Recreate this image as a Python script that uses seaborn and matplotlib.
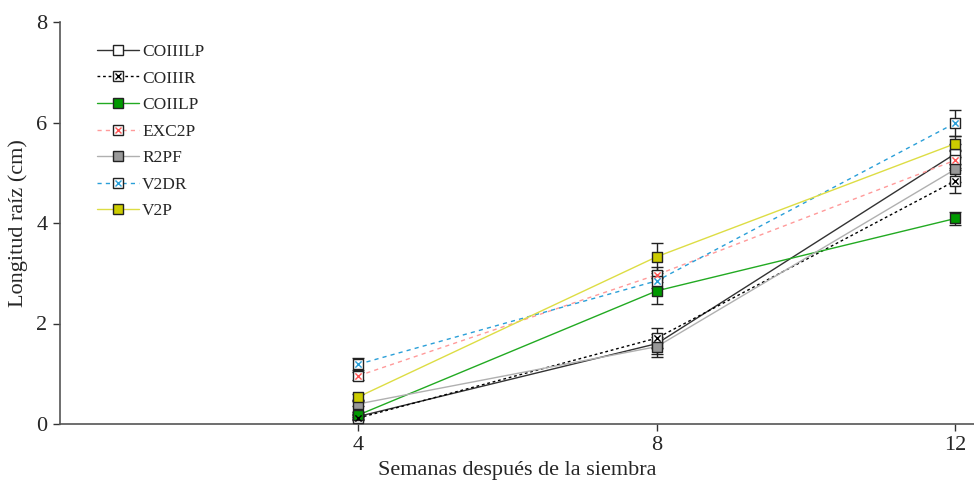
import matplotlib
matplotlib.use("Agg")
import matplotlib.pyplot as plt
from matplotlib.lines import Line2D
import seaborn as sns
import pandas as pd

semanas = [4, 8, 12]
series = ["COIIILP", "COIIIR", "COIILP", "EXC2P", "R2PF", "V2DR", "V2P"]

coiiilp = [0.15, 1.60, 5.38]
coiiir = [0.12, 1.71, 4.84]
coiilp = [0.18, 2.65, 4.09]
exc2p = [0.96, 2.97, 5.25]
r2pf = [0.40, 1.54, 5.07]
v2dr = [1.19, 2.85, 5.99]
v2p = [0.54, 3.33, 5.58]

err_coiiilp = [0.05, 0.20, 0.20]
err_coiiir = [0.05, 0.20, 0.25]
err_coiilp = [0.05, 0.26, 0.12]
err_exc2p = [0.08, 0.15, 0.20]
err_r2pf = [0.05, 0.20, 0.25]
err_v2dr = [0.12, 0.15, 0.25]
err_v2p = [0.06, 0.28, 0.15]

valores = [coiiilp, coiiir, coiilp, exc2p, r2pf, v2dr, v2p]
errores = [err_coiiilp, err_coiiir, err_coiilp, err_exc2p, err_r2pf, err_v2dr, err_v2p]

df = pd.DataFrame({
    "semana": semanas * len(series),
    "longitud": [v for s in valores for v in s],
    "error": [e for s in errores for e in s],
    "tratamiento": [n for n in series for _ in semanas],
})

estilo = {
    "COIIILP": dict(line="#333333", ls="-", face="white", over=None),
    "COIIIR": dict(line="#000000", ls=(0, (2, 2)), face="white", over="#000000"),
    "COIILP": dict(line="#22aa22", ls="-", face="#009900", over=None),
    "EXC2P": dict(line="#ff9a9a", ls=(0, (3, 3)), face="white", over="#ff5555"),
    "R2PF": dict(line="#b0b0b0", ls="-", face="#999999", over=None),
    "V2DR": dict(line="#2a9fd8", ls=(0, (3, 3)), face="white", over="#2a9fd8"),
    "V2P": dict(line="#dddd44", ls="-", face="#cccc00", over=None),
}

sns.set_style("white")
plt.rcParams["font.family"] = ["Liberation Serif", "DejaVu Serif"]

fig = plt.figure(figsize=(9.74, 4.8), dpi=100)
ax = fig.add_axes([60 / 974, 1 - 424 / 480, 914 / 974, 402 / 480])

for n in series:
    st = estilo[n]
    d = df[df["tratamiento"] == n]
    ax.errorbar(d["semana"], d["longitud"], yerr=d["error"], fmt="none",
                ecolor="#222222", elinewidth=1, capsize=4, capthick=1, zorder=3)
    sns.lineplot(data=d, x="semana", y="longitud", ax=ax, color=st["line"],
                 linewidth=1, linestyle=st["ls"], legend=False, zorder=2)
for n in series:
    st = estilo[n]
    d = df[df["tratamiento"] == n]
    sns.scatterplot(data=d, x="semana", y="longitud", ax=ax, marker="s", s=55,
                    color=st["face"], edgecolor="#222222", linewidth=1,
                    legend=False, zorder=4)
    if st["over"] is not None:
        ax.scatter(d["semana"], d["longitud"], marker="x", s=20,
                   color=st["over"], linewidth=1, zorder=5)

ax.set_xlim(0, 12.25)
ax.set_ylim(0, 8)
ax.set_xticks([4, 8, 12])
ax.set_yticks([0, 2, 4, 6, 8])
ax.set_xlabel("Semanas después de la siembra", fontsize=16, labelpad=4)
ax.set_ylabel("Longitud raíz (cm)", fontsize=16, labelpad=6)
ax.tick_params(axis="both", which="major", labelsize=16, length=5, width=1,
               direction="out", bottom=True, left=True, color="#333333", pad=4)
for side in ["top", "right"]:
    ax.spines[side].set_visible(False)
for side in ["left", "bottom"]:
    ax.spines[side].set_color("#555555")
    ax.spines[side].set_linewidth(1.2)

handles = []
for n in series:
    st = estilo[n]
    base = Line2D([0], [0], color=st["line"], linestyle=st["ls"],
                  linewidth=1, marker="s", markersize=7.5,
                  markerfacecolor=st["face"], markeredgecolor="#222222")
    if st["over"] is not None:
        cruz = Line2D([0], [0], linestyle="none", marker="x", markersize=4.5,
                      markeredgecolor=st["over"], markeredgewidth=1)
        handles.append((base, cruz))
    else:
        handles.append(base)
ax.legend(handles, series, loc="upper left", bbox_to_anchor=(0.033, 0.963),
          frameon=False, fontsize=12.5, handlelength=2.4, labelspacing=0.6,
          handletextpad=0.2, borderaxespad=0)

fig.savefig("out.png", dpi=100)
